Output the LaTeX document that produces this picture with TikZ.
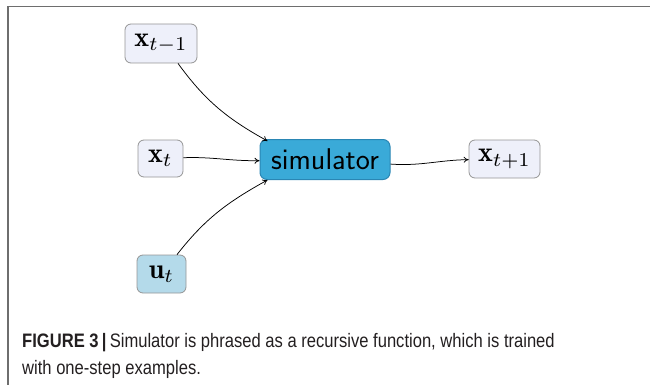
\documentclass[tikz,border=0pt]{standalone}
\usepackage{fontspec}
\usepackage{amsmath}
\newfontfamily\capfont[FakeStretch=0.85]{Liberation Sans}
\usetikzlibrary{arrows.meta}
\definecolor{boxfill}{HTML}{EEF0FA}
\definecolor{boxline}{HTML}{959595}
\definecolor{simfill}{HTML}{3AAAD8}
\definecolor{simline}{HTML}{2A86B4}
\definecolor{ufill}{HTML}{B4DAEA}
\definecolor{framegray}{HTML}{6E6E6E}
\definecolor{captext}{HTML}{231F20}
% math labels are set at 10pt and enlarged
\newcommand{\biglabel}[1]{\scalebox{2.8}{$#1$}}
\tikzset{
  varbox/.style={draw=boxline, fill=boxfill, rounded corners=6pt, line width=0.8pt,
    inner sep=0pt},
  simbox/.style={draw=simline, fill=simfill, rounded corners=7pt, line width=1pt,
    minimum width=130pt, minimum height=40pt, font=\sffamily\fontsize{30}{34}\selectfont},
  link/.style={-{To[length=5pt,width=6pt]}, line width=0.75pt},
  captxt/.style={anchor=base west, inner sep=0pt, text=captext, font=\capfont\fontsize{19.5}{23}\selectfont}
}
\begin{document}
\begin{tikzpicture}[x=1pt,y=-1pt]
\useasboundingbox (0,0) rectangle (650,385);
% panel frame
\draw[framegray, line width=1.4pt] (8,385) -- (8,6.5) -- (650,6.5);
% variables and the simulator
\node[varbox, minimum width=72pt, minimum height=39pt] (xm1) at (161,43.5) {\biglabel{\mathbf{x}_{t-1}}};
\node[varbox, minimum width=45pt, minimum height=37pt] (xt) at (160.5,158.5) {\biglabel{\mathbf{x}_{t}}};
\node[simbox] (sim) at (325,159.5) {simulator};
\node[varbox, minimum width=71pt, minimum height=38pt] (xp1) at (504.5,159) {\biglabel{\mathbf{x}_{t+1}}};
\node[varbox, fill=ufill, minimum width=49pt, minimum height=38pt] (ut) at (161.5,274) {\biglabel{\mathbf{u}_{t}}};
% connectors
\draw[link] ([xshift=17pt]xm1.south) to[out=-54, in=151] ([xshift=8pt,yshift=-2pt]sim.north west);
\draw[link] (xt) to[out=2, in=181] (sim);
\draw[link] ([xshift=15.5pt]ut.north) to[out=52, in=-151] ([xshift=8pt]sim.south west);
\draw[link] (sim) to[out=-4, in=181] (xp1);
% caption
\node[captxt] (cap1) at (22,347) {\textbf{FIGURE 3}\,\textbf{|}\,Simulator is phrased as a recursive function, which is trained};
\node[captxt] (cap2) at (22,374) {with one-step examples.};
\end{tikzpicture}
\end{document}
